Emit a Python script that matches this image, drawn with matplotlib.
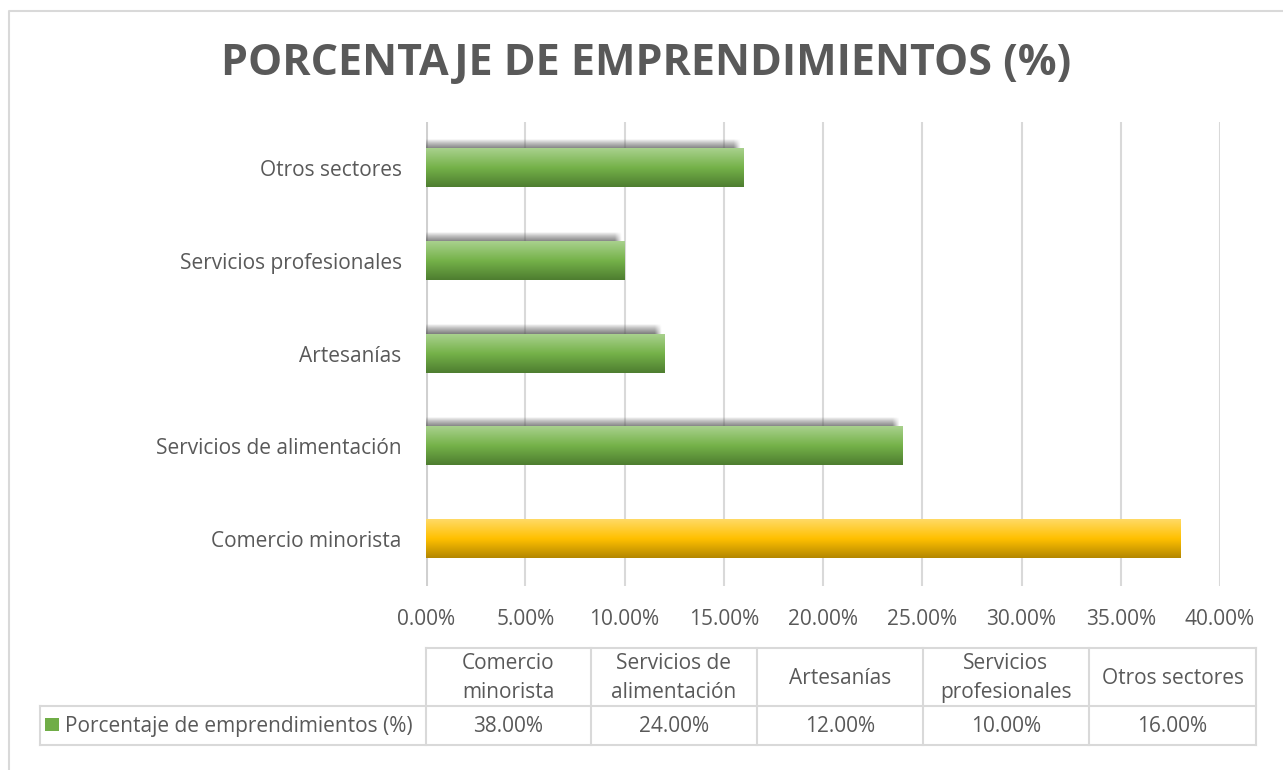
import numpy as np
import matplotlib
matplotlib.use("Agg")
import matplotlib.pyplot as plt
from matplotlib.colors import LinearSegmentedColormap
from matplotlib.patches import Rectangle

categories = ["Comercio minorista", "Servicios de alimentación", "Artesanías",
              "Servicios profesionales", "Otros sectores"]
values = [38.0, 24.0, 12.0, 10.0, 16.0]
table_headers = ["Comercio\nminorista", "Servicios de\nalimentación", "Artesanías",
                 "Servicios\nprofesionales", "Otros sectores"]
series_name = "Porcentaje de emprendimientos (%)"
title = "PORCENTAJE DE EMPRENDIMIENTOS (%)"
xticks = [0, 5, 10, 15, 20, 25, 30, 35, 40]

FONT = "Open Sans"
TXT = "#595959"
FS = 15
W, H = 1283, 770
fig = plt.figure(figsize=(W / 100, H / 100), dpi=100)
fig.patch.set_facecolor("white")

# main axes in pixel geometry
x0, x1 = 426, 1220
ytop, ybot = 121.5, 585.5
ax = fig.add_axes([x0 / W, 1 - ybot / H, (x1 - x0) / W, (ybot - ytop) / H])
ax.set_facecolor("none")
for s in ax.spines.values():
    s.set_visible(False)
ax.set_xticks(xticks)
ax.set_xticklabels([f"{t:.2f}%" for t in xticks], fontsize=FS, color=TXT, family=FONT)
ax.set_yticks(range(len(categories)))
ax.set_yticklabels(categories, fontsize=FS, color=TXT, family=FONT)
ax.tick_params(axis="y", length=0, pad=17.5)
ax.tick_params(axis="x", length=0, pad=17)
ax.grid(axis="x", color="#d9d9d9", lw=1.5, zorder=0)
ax.axvline(0, color="#d0d0d0", lw=2.2, zorder=1)
ax.set_axisbelow(True)

green = LinearSegmentedColormap.from_list("g", ["#a9d18e", "#75b249", "#4e7d30"])
gold = LinearSegmentedColormap.from_list("y", ["#ffda66", "#ffc000", "#b38600"])
grad = np.linspace(0, 1, 256).reshape(-1, 1)
bh = 0.41
sh = 0.1  # shadow height in data units
for i, v in enumerate(values):
    cmap = gold if i == 0 else green
    if i != 0:
        send = v - 0.15
        nx, ny = 400, 30
        xs = np.linspace(0, send, nx)
        hfade = np.clip((send - xs) / 0.35, 0, 1)
        vfade = np.linspace(0, 1, ny) ** 0.8  # top (0) -> bottom (1)
        alpha = 0.85 * vfade[:, None] * hfade[None, :]
        rgba = np.zeros((ny, nx, 4))
        rgba[..., :3] = 0.35
        rgba[..., 3] = alpha
        ax.imshow(rgba, aspect="auto", extent=(0, send, i + bh / 2 - 0.01, i + bh / 2 + sh),
                  origin="upper", zorder=2, interpolation="bilinear")
    ax.imshow(grad, cmap=cmap, aspect="auto", extent=(0, v, i - bh / 2, i + bh / 2),
              origin="upper", zorder=3, interpolation="bilinear")
ax.set_xlim(0, 40)
ax.set_ylim(-0.5, len(categories) - 0.5)

# overlay axes in pixels
ov = fig.add_axes([0, 0, 1, 1])
ov.set_xlim(0, W)
ov.set_ylim(H, 0)
ov.axis("off")
ov.set_zorder(-1)
lc = "#d9d9d9"
# outer border
ov.plot([9, 9, W + 5], [H + 5, 11, 11], color=lc, lw=1.5)
# title
ov.text(646, 64, title, ha="center", va="center", fontsize=31, fontweight="bold",
        color=TXT, family=FONT)

# data table
cols = [426, 591, 757, 923, 1089, 1256]
yh0, yh1, yd1 = 648, 706, 745
xl = 40
kw = dict(color=lc, lw=1.5)
ov.plot([cols[0], cols[-1]], [yh0, yh0], **kw)
ov.plot([xl, cols[-1]], [yh1, yh1], **kw)
ov.plot([xl, cols[-1]], [yd1, yd1], **kw)
ov.plot([xl, xl], [yh1, yd1], **kw)
for c in cols:
    ov.plot([c, c], [yh0, yd1], **kw)
for j, (hdr, v) in enumerate(zip(table_headers, values)):
    cx = (cols[j] + cols[j + 1]) / 2
    ov.text(cx, (yh0 + yh1) / 2 + 1, hdr, ha="center", va="center", fontsize=FS,
            color=TXT, family=FONT, linespacing=1.45)
    ov.text(cx, (yh1 + yd1) / 2 + 1, f"{v:.2f}%", ha="center", va="center", fontsize=FS,
            color=TXT, family=FONT)
ov.add_patch(Rectangle((45, 718), 14, 13, facecolor="#70ad47", edgecolor="none"))
ov.text(65, (yh1 + yd1) / 2 + 1, series_name, ha="left", va="center", fontsize=FS,
        color=TXT, family=FONT)

fig.savefig("out.png", dpi=100)
